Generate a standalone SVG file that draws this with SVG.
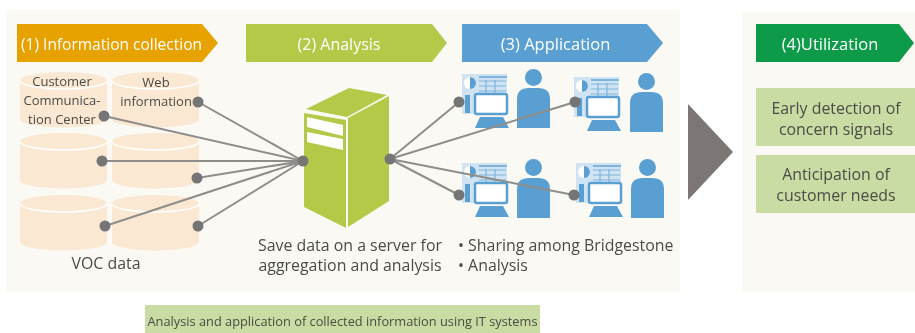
<svg xmlns="http://www.w3.org/2000/svg" xmlns:xlink="http://www.w3.org/1999/xlink" width="915" height="333" viewBox="0 0 915 333">
<style>
text{font-family:"Open Sans","Noto Sans","Liberation Sans",sans-serif;fill:#4c4b46;text-anchor:middle}
.h{fill:#fff;font-size:16.500px}
.b{font-size:15.900px}
.s{font-size:13px}
.l{text-anchor:start}
.dot{fill:#757575}
.c{stroke:#8f8d8a;stroke-width:2;fill:none}
.cb{fill:#fbe8d2}
.ct{fill:none;stroke:#fff;stroke-width:1.500}
.ic{fill:#5a9fd2}
</style>
<defs>
<filter id="soft" x="-5%" y="-5%" width="110%" height="110%"><feGaussianBlur stdDeviation="0.45"/></filter>
<g id="cyl"><path class="cb" d="M0 8.500A43.500 8.500 0 0 1 87 8.500V47A43.500 8.500 0 0 1 0 47Z"/><path class="ct" d="M0 8.500A43.500 8.500 0 0 0 87 8.500"/></g>
<g id="ws">
<rect x="0" y="0" width="45" height="40" fill="#cfe3f2"/>
<rect x="17" y="2" width="28" height="2" fill="#7fb5dc"/>
<path d="M17 7H44M17 12H44M17 17H44M24 6V20M33 6V20" stroke="#7fb5dc" stroke-width="1.200" fill="none"/>
<circle cx="8" cy="9" r="6" fill="#fff"/><path d="M8 3A6 6 0 0 1 8 15Z" fill="#5a9fd2"/>
<rect x="3" y="21" width="5" height="18" class="ic"/>
<rect x="13" y="20" width="32" height="20" rx="2" fill="#fff" stroke="#5a9fd2" stroke-width="2.500"/>
<path class="ic" d="M18 43H41L47 54H13Z"/>
</g>
<g id="person"><circle class="ic" cx="16.500" cy="8.500" r="8.500"/><path class="ic" d="M0 30Q0 19 12 19H21Q33 19 33 30V59H0Z"/></g>
</defs>
<g filter="url(#soft)">
<g id="panels">
<rect x="6" y="10" width="674" height="282" fill="#faf9f4"/>
<rect x="742" y="12" width="173" height="280" fill="#faf9f4"/>
</g>
<g id="databases">
<use xlink:href="#cyl" x="20" y="72"/><use xlink:href="#cyl" x="112" y="72"/>
<use xlink:href="#cyl" x="20" y="133"/><use xlink:href="#cyl" x="112" y="133"/>
<use xlink:href="#cyl" x="20" y="195"/><use xlink:href="#cyl" x="112" y="195"/>
<text class="s" x="62" y="86">Customer</text>
<text class="s" x="62" y="105">Communica-</text>
<text class="s" x="62" y="124">tion Center</text>
<text class="s" x="156" y="87">Web</text>
<text class="s" x="156" y="106">information</text>
<text class="b" x="106" y="269">VOC data</text>
</g>
<g id="server">
<path fill="#b5c94a" d="M304 113L346 120V228L304 207Z"/>
<path fill="#b5c94a" d="M348 118L389 96V201L348 227Z"/>
<path fill="#b5c94a" d="M306 109L349 88L387 95L347 117Z"/>
<path fill="#fff" d="M307 117L343 125V136L307 127ZM307 132L343 139V150L307 142Z"/>
<text class="b" x="350" y="251">Save data on a server for</text>
<text class="b" x="350" y="271">aggregation and analysis</text>
</g>
<g id="workstations">
<use xlink:href="#ws" x="462" y="74"/><use xlink:href="#person" x="517" y="69"/>
<use xlink:href="#ws" x="574" y="77"/><use xlink:href="#person" x="630" y="73"/>
<use xlink:href="#ws" x="462" y="163"/><use xlink:href="#person" x="517" y="159"/>
<use xlink:href="#ws" x="576" y="163"/><use xlink:href="#person" x="631" y="159"/>
<text class="b l" x="458" y="251">• Sharing among Bridgestone</text>
<text class="b l" x="458" y="271">• Analysis</text>
</g>
<g id="connectors">
<path class="c" d="M104 116L303 161M198 102L303 161M102 161H303M197 178L303 161M105 226L303 161M198 226L303 161"/>
<path class="c" d="M390 159L459 102M390 159L575 102M390 159L459 195M390 159L574 195"/>
<g class="dot">
<circle cx="104" cy="116" r="5.500"/><circle cx="198" cy="102" r="5.500"/><circle cx="102" cy="161" r="5.500"/><circle cx="197" cy="178" r="5.500"/><circle cx="105" cy="226" r="5.500"/><circle cx="198" cy="226" r="5.500"/><circle cx="303" cy="161" r="5.500"/><circle cx="390" cy="159" r="5.500"/><circle cx="459" cy="102" r="5.500"/><circle cx="575" cy="102" r="5.500"/><circle cx="459" cy="195" r="5.500"/><circle cx="574" cy="195" r="5.500"/>
</g>
</g>
<g id="step1"><path fill="#e8a200" d="M17 24H202L218 43L202 62H17Z"/><text class="h" style="font-size:15.500px" x="111.500" y="50">(1) Information collection</text></g>
<g id="step2"><path fill="#b5c94a" d="M246 24H432L447 43L432 62H246Z"/><text class="h" style="font-size:16px" x="339" y="50">(2) Analysis</text></g>
<g id="step3"><path fill="#5a9fd2" d="M462 24H647L663 43L647 62H462Z"/><text class="h" x="555.500" y="50">(3) Application</text></g>
<g id="flow-arrow"><path fill="#7b7675" d="M688 104L733 152L688 200Z"/></g>
<g id="step4"><path fill="#0a9a4a" d="M756 24H899L914 43L899 62H756Z"/><text class="h" x="830" y="50">(4)Utilization</text></g>
<g id="early-detection"><rect x="756" y="88" width="159" height="58" fill="#c9dca3"/><text class="b" x="836" y="114">Early detection of</text><text class="b" x="836" y="135">concern signals</text></g>
<g id="anticipation"><rect x="756" y="155" width="159" height="58" fill="#c9dca3"/><text class="b" x="836" y="180">Anticipation of</text><text class="b" x="836" y="201">customer needs</text></g>
<g id="caption"><rect x="145" y="305" width="395" height="28" fill="#c9dca3"/><text x="342.500" y="326" font-size="12.800">Analysis and application of collected information using IT systems</text></g>
</g>
</svg>
